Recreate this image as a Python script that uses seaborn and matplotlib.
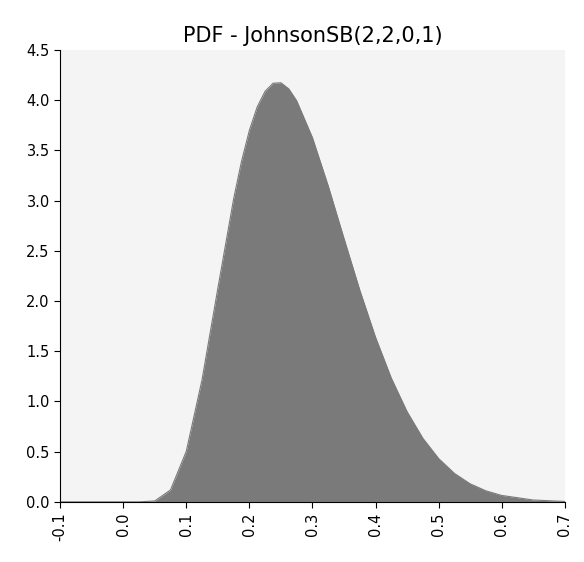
import matplotlib
matplotlib.use("Agg")
import matplotlib.pyplot as plt
import seaborn as sns
import pandas as pd

x_vals = [-0.1, 0.0, 0.025, 0.05, 0.075, 0.1, 0.125, 0.15, 0.175, 0.1875, 0.2, 0.2125, 0.225,
          0.2375, 0.25, 0.2625, 0.275, 0.3, 0.325, 0.35, 0.375, 0.4, 0.425, 0.45, 0.475, 0.5,
          0.525, 0.55, 0.575, 0.6, 0.65, 0.7]
pdf_vals = [0.0, 0.0, 0.0, 0.009, 0.119, 0.504, 1.218, 2.126, 3.016, 3.39, 3.70, 3.935, 4.09,
            4.169, 4.174, 4.113, 3.995, 3.627, 3.147, 2.624, 2.110, 1.640, 1.233, 0.899, 0.634,
            0.432, 0.284, 0.180, 0.110, 0.064, 0.0186, 0.0041]
x_ticks = [-0.1, 0.0, 0.1, 0.2, 0.3, 0.4, 0.5, 0.6, 0.7]
y_ticks = [0.0, 0.5, 1.0, 1.5, 2.0, 2.5, 3.0, 3.5, 4.0, 4.5]

df = pd.DataFrame({"x": x_vals, "pdf": pdf_vals})

sns.set_style("white")
plt.rcParams['font.family'] = ['DejaVu Sans']
fig = plt.figure(figsize=(5.84, 5.62), dpi=100)
ax = fig.add_axes([0.103, 0.107, 0.864, 0.804])
ax.set_facecolor("#f4f4f4")
sns.lineplot(data=df, x="x", y="pdf", ax=ax, color="#7a7a7a", linewidth=0.8)
ax.fill_between(df["x"], 0, df["pdf"], color="#7a7a7a", linewidth=0)
ax.set_xlim(-0.1, 0.7)
ax.set_ylim(0, 4.5)
ax.set_xticks(x_ticks)
ax.set_xticklabels([f"{v:.1f}" for v in x_ticks], rotation=90)
ax.set_yticks(y_ticks)
ax.set_yticklabels([f"{v:.1f}" for v in y_ticks])
ax.tick_params(axis="both", labelsize=10.5, length=4, direction="out", color="black",
               labelcolor="black", bottom=True, left=True)
for s in ["top", "right"]:
    ax.spines[s].set_visible(False)
for s in ["left", "bottom"]:
    ax.spines[s].set_color("black")
ax.set_xlabel("")
ax.set_ylabel("")
ax.set_title("PDF - JohnsonSB(2,2,0,1)", fontsize=15, color="black")
fig.savefig("out.png", dpi=100)
